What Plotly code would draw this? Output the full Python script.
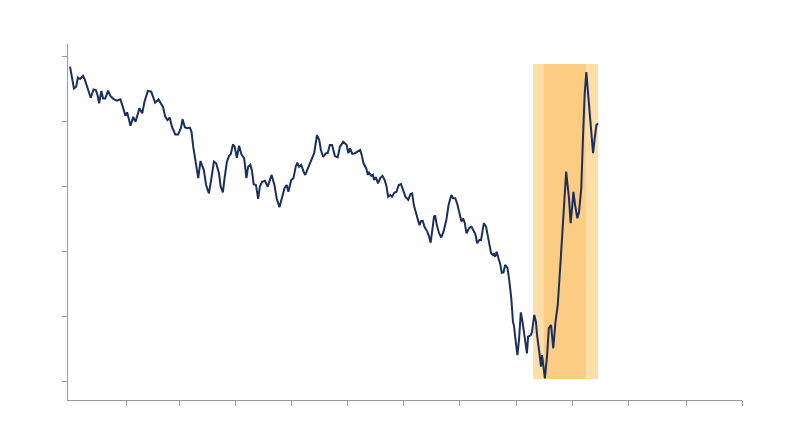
import plotly.graph_objects as go

# ---- data ----
x_years = [0.00, 0.02, 0.07, 0.11, 0.14, 0.18, 0.23, 0.26, 0.31, 0.37, 0.42, 0.46, 0.49, 0.52, 0.56, 0.59,
           0.63, 0.68, 0.72, 0.78, 0.84, 0.90, 0.95, 0.99, 1.02, 1.08, 1.13, 1.17, 1.24, 1.29, 1.33, 1.39,
           1.45, 1.49, 1.52, 1.58, 1.63, 1.66, 1.70, 1.74, 1.78, 1.82, 1.88, 1.93, 1.98, 2.01, 2.05, 2.09,
           2.14, 2.17, 2.20, 2.24, 2.29, 2.33, 2.36, 2.39, 2.43, 2.48, 2.52, 2.57, 2.61, 2.66, 2.69, 2.73,
           2.76, 2.80, 2.84, 2.87, 2.91, 2.94, 2.98, 3.02, 3.06, 3.11, 3.15, 3.18, 3.22, 3.25, 3.28, 3.32,
           3.36, 3.39, 3.43, 3.48, 3.53, 3.60, 3.65, 3.69, 3.74, 3.78, 3.83, 3.87, 3.90, 3.95, 3.99, 4.03,
           4.06, 4.09, 4.13, 4.17, 4.20, 4.24, 4.29, 4.33, 4.36, 4.41, 4.45, 4.48, 4.52, 4.57, 4.60, 4.64,
           4.68, 4.73, 4.78, 4.82, 4.88, 4.94, 4.97, 5.00, 5.04, 5.09, 5.18, 5.21, 5.24, 5.29, 5.32, 5.34,
           5.38, 5.41, 5.43, 5.46, 5.50, 5.54, 5.58, 5.62, 5.65, 5.68, 5.72, 5.75, 5.79, 5.83, 5.87, 5.91,
           5.94, 5.99, 6.04, 6.08, 6.11, 6.14, 6.18, 6.21, 6.24, 6.27, 6.30, 6.33, 6.38, 6.41, 6.44, 6.47,
           6.50, 6.52, 6.55, 6.59, 6.63, 6.67, 6.72, 6.76, 6.81, 6.84, 6.88, 6.92, 6.96, 6.99, 7.02, 7.05,
           7.08, 7.13, 7.17, 7.21, 7.24, 7.27, 7.31, 7.34, 7.36, 7.39, 7.43, 7.46, 7.49, 7.52, 7.55, 7.57,
           7.59, 7.62, 7.65, 7.68, 7.71, 7.74, 7.77, 7.81, 7.84, 7.88, 7.91, 7.93, 7.96, 7.99, 8.02, 8.05,
           8.08, 8.11, 8.16, 8.18, 8.23, 8.25, 8.29, 8.32, 8.34, 8.38, 8.41, 8.43, 8.46, 8.48, 8.52, 8.55,
           8.59, 8.63, 8.67, 8.71, 8.76, 8.80, 8.83, 8.86, 8.91, 8.94, 8.97, 8.99, 9.02, 9.06, 9.09, 9.13,
           9.16, 9.19, 9.22, 9.25, 9.28, 9.31, 9.34, 9.37, 9.40, 9.43]

index_values = [97.0, 95.4, 90.3, 90.8, 93.6, 93.2, 94.2, 93.2, 90.3, 87.4, 90.0, 89.8, 88.3, 85.7, 89.5, 87.2,
                87.2, 89.6, 88.0, 87.0, 86.5, 86.9, 84.2, 81.8, 82.9, 78.8, 81.5, 80.0, 84.2, 82.6, 86.2, 89.5,
                89.3, 87.4, 85.9, 86.9, 85.7, 84.6, 81.6, 80.5, 81.3, 78.5, 76.1, 76.1, 78.0, 80.8, 78.3, 78.0,
                78.2, 76.9, 72.3, 68.2, 62.6, 67.9, 66.1, 65.1, 60.5, 57.9, 62.0, 67.7, 67.2, 64.1, 60.0, 58.2,
                62.6, 67.5, 69.5, 70.0, 73.0, 72.3, 68.9, 72.6, 70.0, 68.7, 62.6, 66.1, 66.7, 64.8, 60.7, 60.5,
                56.2, 60.0, 61.5, 61.8, 60.0, 63.6, 60.5, 56.4, 53.6, 55.9, 59.5, 60.5, 58.4, 62.0, 62.6, 66.1,
                67.4, 66.1, 66.7, 64.6, 63.6, 65.3, 67.2, 68.7, 70.3, 75.9, 74.4, 71.3, 69.2, 70.3, 70.3, 72.8,
                72.8, 69.4, 69.0, 72.3, 73.8, 72.8, 70.3, 71.8, 70.1, 70.3, 71.3, 69.7, 67.2, 65.6, 63.6, 64.3,
                63.3, 63.6, 62.0, 62.9, 61.0, 62.6, 63.3, 62.0, 60.2, 56.9, 57.4, 56.9, 58.1, 58.4, 60.5, 60.8,
                59.2, 56.9, 55.9, 57.7, 57.9, 54.3, 51.8, 50.2, 48.1, 49.4, 49.4, 47.6, 46.1, 44.7, 42.7, 46.6,
                50.7, 51.1, 48.1, 45.6, 44.3, 46.1, 49.7, 54.3, 57.4, 56.4, 56.4, 54.3, 51.2, 49.2, 50.2, 48.7,
                45.6, 47.3, 47.6, 46.3, 45.3, 42.5, 43.5, 43.5, 46.1, 48.7, 47.6, 45.1, 42.5, 39.4, 38.9, 39.4,
                38.4, 39.9, 37.9, 36.3, 33.4, 33.5, 35.8, 35.0, 31.7, 25.5, 18.3, 16.8, 12.1, 8.0, 13.2, 21.2,
                18.3, 14.2, 8.5, 13.7, 14.2, 15.2, 20.4, 18.3, 14.2, 9.0, 4.4, 8.0, 3.4, 0.8, 8.0, 16.3,
                17.3, 10.1, 18.3, 23.5, 36.8, 49.2, 55.3, 64.6, 56.4, 48.7, 54.3, 58.4, 54.3, 50.2, 52.2, 59.5,
                74.9, 88.3, 95.3, 88.3, 81.6, 74.9, 70.3, 74.9, 79.0, 79.5]

# shaded periods: (start, end, bottom, top)
outer_band = [8.27, 9.43, 0.6, 97.8]
inner_band = [8.46, 9.21, 0.6, 97.8]

x_tick_vals = [1.0, 1.96, 2.96, 3.96, 4.96, 5.96, 6.96, 7.98, 8.98, 9.98, 11.0, 12.0]
y_tick_vals = [0, 20, 40, 60, 80, 100]

# ---- figure ----
fig = go.Figure()

fig.add_shape(type="rect", xref="x", yref="y",
              x0=outer_band[0], x1=outer_band[1], y0=outer_band[2], y1=outer_band[3],
              fillcolor="#FDDEA8", line=dict(width=0), layer="below")
fig.add_shape(type="rect", xref="x", yref="y",
              x0=inner_band[0], x1=inner_band[1], y0=inner_band[2], y1=inner_band[3],
              fillcolor="#FBCC82", line=dict(width=0), layer="below")

fig.add_trace(go.Scatter(
    x=x_years, y=index_values, mode="lines",
    line=dict(color="#1B2F5E", width=2),
    showlegend=False, hoverinfo="skip"
))

axis_common = dict(
    showgrid=False, zeroline=False, showticklabels=False,
    showline=True, linecolor="#9A9A9A", linewidth=1,
    ticks="outside", tickcolor="#9A9A9A", ticklen=5, tickwidth=1,
)

fig.update_xaxes(range=[-0.036, 12.0], tickmode="array", tickvals=x_tick_vals, **axis_common)
fig.update_yaxes(range=[-5.86, 104.0], tickmode="array", tickvals=y_tick_vals, **axis_common)

fig.update_layout(
    width=800, height=447,
    margin=dict(l=60, r=66, t=36, b=55),
    plot_bgcolor="white", paper_bgcolor="white",
    showlegend=False,
)

fig.write_html("out.html")
